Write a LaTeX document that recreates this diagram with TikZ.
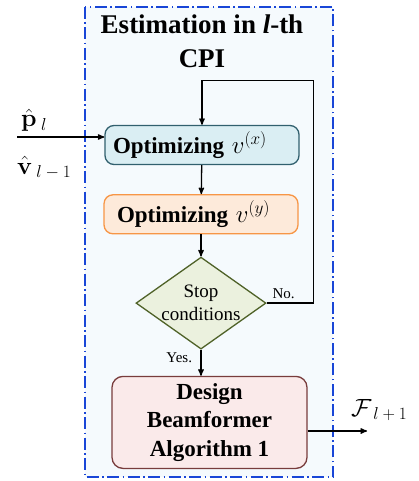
\documentclass[tikz,border=0pt]{standalone}
\usepackage{amsmath}
\usepackage{amssymb}
\usepackage[no-math]{fontspec}
\setmainfont{Liberation Serif}
\usetikzlibrary{arrows,positioning,shapes}
\definecolor{cpiblue}{RGB}{25,70,215}
\definecolor{cpifill}{RGB}{245,250,253}
\definecolor{xfill}{RGB}{218,238,243}
\definecolor{xdraw}{RGB}{49,96,110}
\definecolor{yfill}{RGB}{253,234,218}
\definecolor{ydraw}{RGB}{247,150,70}
\definecolor{stopfill}{RGB}{235,241,222}
\definecolor{stopdraw}{RGB}{79,98,40}
\definecolor{bffill}{RGB}{250,234,234}
\definecolor{bfdraw}{RGB}{120,60,60}
% subscript set in text style, as in the labels
\newcommand{\labsub}[1]{\mbox{\,\fontsize{17}{19}\selectfont$#1$}}
\tikzset{
    %Define standard arrow tip
    >=stealth',
    %Define style for boxes
    optnode/.style={
             rectangle, rounded corners=9pt,
             line width=1.3pt,
             minimum width=194pt, minimum height=39pt,
             text width=178pt, inner xsep=8pt, align=left,
             font=\fontsize{23}{28}\selectfont\bfseries},
    stopnode/.style={
             diamond, aspect=1.413,
             draw=stopdraw, fill=stopfill, line width=1.3pt,
             minimum width=130pt, minimum height=92pt,
             inner sep=-2pt, align=center,
             font=\fontsize{19}{23}\selectfont},
    designnode/.style={
             rectangle, rounded corners=11pt,
             draw=bfdraw, fill=bffill, line width=1.3pt,
             minimum width=195pt, minimum height=92pt,
             align=center,
             font=\fontsize{23}{28.5}\selectfont\bfseries},
    mathlabel/.style={
             inner sep=0pt,
             font=\fontsize{26}{30}\selectfont},
    % Define arrow style
    flowarrow/.style={
            ->,
            line width=1.3pt,
            font=\fontsize{15}{18}\selectfont}
}
\begin{document}
\begin{tikzpicture}[x=1pt, y=1pt, node distance=27pt]
    \useasboundingbox (0,0) rectangle (419,-481);
    % CPI frame
    \draw[cpiblue, fill=cpifill, line width=1.8pt,
          dash pattern=on 12pt off 3.5pt on 1.5pt off 3.5pt]
          (85,-7) rectangle (333,-477);
    \node[align=center, inner sep=0pt, anchor=north,
          font=\fontsize{27}{34}\selectfont\bfseries] (title) at (202,-14.5)
          {Estimation in \textit{l}-th\\CPI};
    % flow
    \node[optnode, draw=xdraw, fill=xfill] (optx) at (202,-145)
          {Optimizing $v^{(x)}$};
    \node[optnode, draw=ydraw, fill=yfill, below=29pt of optx, xshift=-1pt] (opty)
          {\hspace*{5pt}Optimizing $v^{(y)}$};
    \node[stopnode, below=22pt of opty] (stop) {Stop\\conditions};
    \node[designnode, below=26pt of stop, xshift=8.5pt] (design)
          {Design\\Beamformer\\Algorithm 1};
    \coordinate[above=44pt of optx.north] (looptop);
    \coordinate (inStart) at (17,-137);
    \coordinate (outEnd) at (367,-431);
    \node[mathlabel, anchor=base west] (pin) at (21,-127) {$\hat{\mathbf{p}}_{\labsub{l}}$};
    \node[mathlabel, anchor=base west] (vin) at (17,-174) {$\hat{\mathbf{v}}_{\labsub{l-1}}$};
    \node[mathlabel, anchor=base west] (fout) at (351,-416) {$\mathcal{F}_{\labsub{l+1}}$};
    \path (optx) edge[flowarrow] (opty)
    (opty) edge[flowarrow] (stop)
    (stop) edge[flowarrow] node[left, pos=0.3, xshift=-5pt] {Yes.} (design.north -| stop)
    (inStart) edge[flowarrow] (inStart -| optx.west)
    (outEnd -| design.east) edge[flowarrow] (outEnd);
    \draw[flowarrow] (stop.east) -- node[above, pos=0.36] {No.} ++(47,0)
          |- (looptop) -- (optx.north);
  \end{tikzpicture}
\end{document}
